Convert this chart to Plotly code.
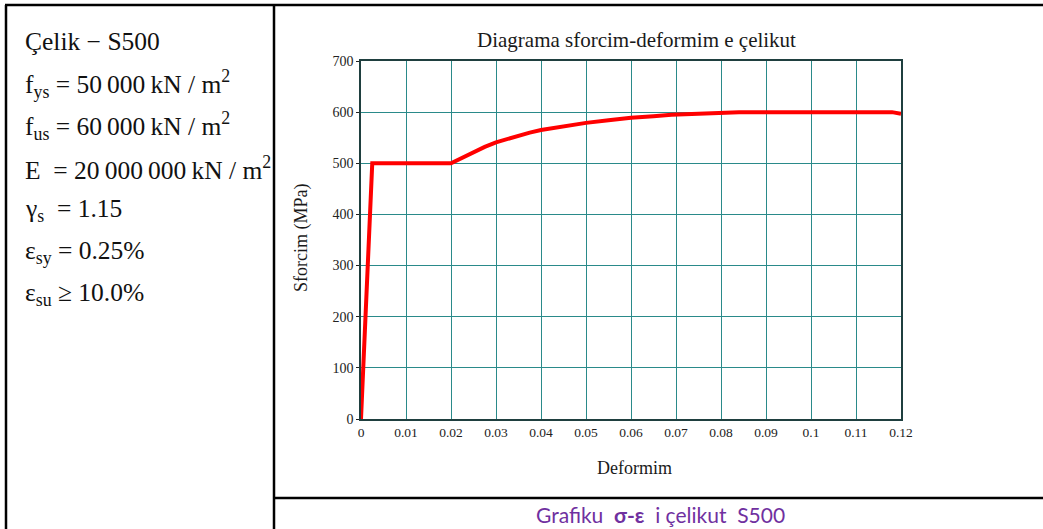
import plotly.graph_objects as go

# ---- data ----
strain = [0, 0.0025, 0.02, 0.0225, 0.025, 0.0275, 0.03, 0.0325, 0.035, 0.0375,
          0.04, 0.045, 0.05, 0.055, 0.06, 0.065, 0.069, 0.075, 0.084, 0.09,
          0.1, 0.11, 0.118, 0.12]
stress = [0, 500, 500, 511, 521, 532, 541, 548, 554, 560,
          565, 572, 579, 584, 589, 592, 595, 597, 600, 600,
          600, 600, 600, 597]
x_ticks = [0, 0.01, 0.02, 0.03, 0.04, 0.05, 0.06, 0.07, 0.08, 0.09, 0.1, 0.11, 0.12]
x_tick_labels = ["0", "0.01", "0.02", "0.03", "0.04", "0.05", "0.06", "0.07",
                 "0.08", "0.09", "0.1", "0.11", "0.12"]
y_ticks = [0, 100, 200, 300, 400, 500, 600, 700]
title_text = "Diagrama sforcim-deformim e çelikut"
x_title = "Deformim"
y_title = "Sforcim (MPa)"
caption = "Grafiku  <b>σ-ε</b>  i çelikut  S500"
param_lines = [
    "Çelik − S500",
    "f<sub>ys</sub> = 50\u2009000\u2009kN / m<sup>2</sup>",
    "f<sub>us</sub> = 60\u2009000\u2009kN / m<sup>2</sup>",
    "E  = 20\u2009000\u2009000\u2009kN / m<sup>2</sup>",
    "γ<sub>s</sub>  = 1.15",
    "ε<sub>sy</sub> = 0.25%",
    "ε<sub>su</sub> ≥ 10.0%",
]

W, H = 1043, 529
L, R, T, B = 361, 901, 61, 419


def px(x):
    return (x - L) / (R - L)


def py(y):
    return (B - y) / (B - T)


SERIF = "Liberation Serif"

fig = go.Figure()
fig.add_trace(go.Scatter(x=strain, y=stress, mode="lines",
                         line=dict(color="#ff0000", width=4, shape="linear"),
                         showlegend=False, hoverinfo="skip"))

fig.update_layout(
    width=W, height=H,
    margin=dict(l=L, r=W - R, t=T, b=H - B, pad=0),
    paper_bgcolor="white", plot_bgcolor="white",
    font=dict(family=SERIF, color="#222222"),
    xaxis=dict(range=[0, 0.12], tickvals=x_ticks, ticktext=x_tick_labels,
               showgrid=True, gridcolor="#2a8a8a", gridwidth=1,
               showline=True, linecolor="#1f3f3f", linewidth=1.5, mirror=True,
               ticks="", tickfont=dict(size=13.5, family=SERIF, color="#222"),
               zeroline=False, fixedrange=True),
    yaxis=dict(range=[0, 700], tickvals=y_ticks,
               showgrid=True, gridcolor="#2a8a8a", gridwidth=1,
               showline=True, linecolor="#1f3f3f", linewidth=1.5, mirror=True,
               ticks="outside", ticklen=3, tickcolor="#222",
               tickfont=dict(size=14, family=SERIF, color="#222"),
               zeroline=False, fixedrange=True),
)

ann = []
ann.append(dict(x=px(636), y=py(40), xref="paper", yref="paper", text=title_text,
                showarrow=False, xanchor="center", yanchor="middle",
                font=dict(size=21, family=SERIF, color="#1a1a1a")))
ann.append(dict(x=px(634), y=py(468), xref="paper", yref="paper", text=x_title,
                showarrow=False, xanchor="center", yanchor="middle",
                font=dict(size=18, family=SERIF, color="#1a1a1a")))
ann.append(dict(x=px(302), y=py(238), xref="paper", yref="paper", text=y_title,
                showarrow=False, xanchor="center", yanchor="middle", textangle=-90,
                font=dict(size=18, family=SERIF, color="#1a1a1a")))
ann.append(dict(x=px(660), y=py(514), xref="paper", yref="paper", text=caption,
                showarrow=False, xanchor="center", yanchor="middle",
                font=dict(size=21, family="Lato", color="#7030a0")))
base_y = 42
for i, t in enumerate(param_lines):
    ann.append(dict(x=px(23), y=py(base_y + 42 * i), xref="paper", yref="paper",
                    text=t, showarrow=False, xanchor="left", yanchor="middle",
                    font=dict(size=25.5, family=SERIF, color="#111111")))
fig.update_layout(annotations=ann)

shapes = []
lw = 2.5
def line(x0, y0, x1, y1):
    shapes.append(dict(type="line", xref="paper", yref="paper",
                       x0=px(x0), y0=py(y0), x1=px(x1), y1=py(y1),
                       line=dict(color="black", width=lw)))
line(5, 5, W, 5)          # top border
line(6, 5, 6, H)          # left border
line(274, 5, 274, H)      # column divider
line(274, 498, W, 498)    # caption separator
fig.update_layout(shapes=shapes)

fig.write_html("out.html", config={"displayModeBar": False},
               post_script="document.body.style.margin='0';")
